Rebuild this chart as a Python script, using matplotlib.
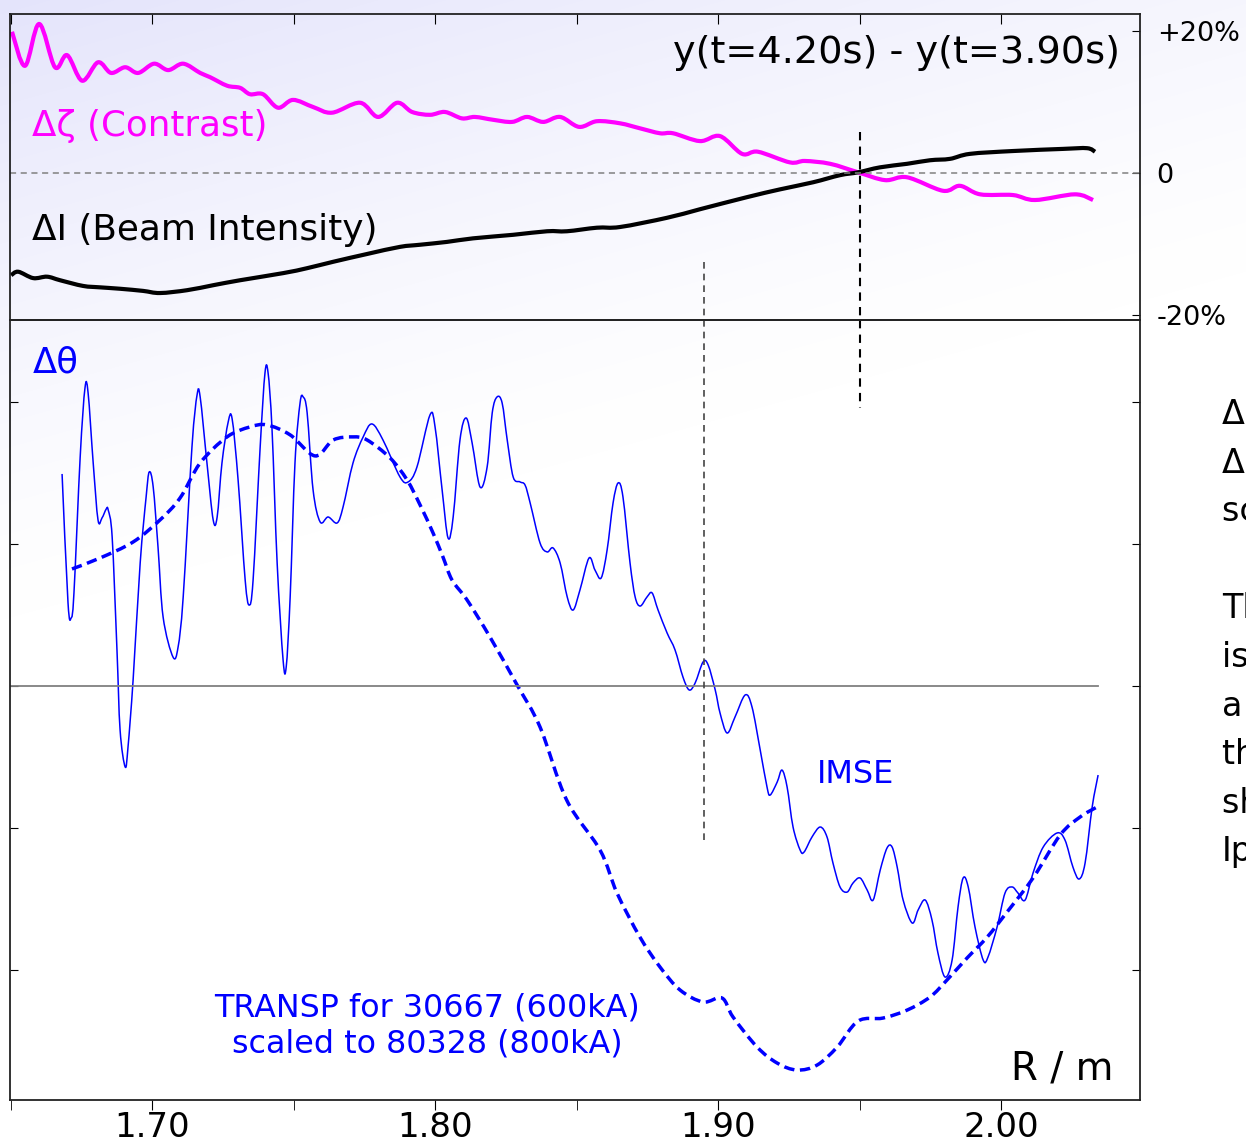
import numpy as np
import matplotlib
matplotlib.use("Agg")
import matplotlib.pyplot as plt
from matplotlib.path import Path
from matplotlib.patches import PathPatch
from matplotlib.ticker import MultipleLocator

# ---- data ----
# top panel: relative change in % vs major radius R (m)
zeta_r = [1.6505, 1.6551, 1.6601, 1.6657, 1.6700, 1.6753, 1.6809, 1.6855, 1.6905,
          1.6951, 1.7007, 1.7057, 1.7110, 1.7170, 1.7205, 1.7265, 1.7311, 1.7346,
          1.7392, 1.7445, 1.7498, 1.7569, 1.7636, 1.7735, 1.7799, 1.7866, 1.7919,
          1.7982, 1.8035, 1.8095, 1.8141, 1.8205, 1.8272, 1.8325, 1.8382, 1.8442,
          1.8509, 1.8572, 1.8654, 1.8724, 1.8795, 1.8841, 1.8936, 1.9007, 1.9085,
          1.9141, 1.9254, 1.9307, 1.9396, 1.9495, 1.9590, 1.9668, 1.9795, 1.9855,
          1.9926, 2.0042, 2.0120, 2.0261, 2.0325]
zeta_pct = [19.9, 15.1, 21.0, 14.9, 16.6, 13.0, 15.6, 14.1, 14.9,
            14.1, 15.4, 14.5, 15.4, 14.1, 13.5, 12.3, 12.0, 11.1,
            11.1, 9.2, 10.3, 9.3, 8.5, 9.9, 7.9, 9.9, 8.6,
            8.2, 8.6, 7.7, 7.9, 7.5, 7.2, 7.9, 7.2, 7.9,
            6.5, 7.3, 7.0, 6.3, 5.6, 5.6, 4.5, 5.2, 2.7,
            3.0, 1.5, 1.7, 1.3, 0.1, -1.0, -0.6, -2.5, -1.8,
            -3.0, -3.1, -3.8, -3.0, -3.8]

beam_r = [1.6502, 1.6527, 1.6580, 1.6629, 1.6675, 1.6756, 1.6816, 1.6887, 1.6968,
          1.7028, 1.7124, 1.7216, 1.7311, 1.7463, 1.7548, 1.7640, 1.7760, 1.7876,
          1.7947, 1.8042, 1.8134, 1.8276, 1.8396, 1.8466, 1.8572, 1.8654, 1.8820,
          1.8936, 1.9102, 1.9219, 1.9336, 1.9431, 1.9495, 1.9572, 1.9668, 1.9749,
          1.9820, 1.9890, 2.0042, 2.0219, 2.0304, 2.0332]
beam_pct = [-14.4, -13.9, -14.8, -14.6, -15.1, -15.9, -16.1, -16.3, -16.6,
            -16.9, -16.5, -15.8, -15.1, -14.1, -13.4, -12.5, -11.4, -10.4,
            -10.1, -9.7, -9.2, -8.7, -8.2, -8.2, -7.7, -7.6, -6.3,
            -5.1, -3.4, -2.3, -1.3, -0.3, 0.1, 0.8, 1.3, 1.8,
            2.0, 2.7, 3.1, 3.4, 3.5, 3.0]

# bottom panel: delta theta (arbitrary units, one unit per tick)
imse_r = [1.6682, 1.6703, 1.6714, 1.6724, 1.6746, 1.6763, 1.6774, 1.6792, 1.6809, 1.6823,
          1.6838, 1.6845, 1.6859, 1.6876, 1.6887, 1.6905, 1.6915, 1.6933, 1.6958, 1.6979,
          1.6990, 1.7004, 1.7021, 1.7039, 1.7074, 1.7092, 1.7110, 1.7141, 1.7159, 1.7170,
          1.7194, 1.7216, 1.7230, 1.7247, 1.7269, 1.7283, 1.7304, 1.7329, 1.7343, 1.7357,
          1.7382, 1.7399, 1.7410, 1.7424, 1.7442, 1.7463, 1.7474, 1.7488, 1.7505, 1.7523,
          1.7534, 1.7548, 1.7569, 1.7594, 1.7622, 1.7654, 1.7675, 1.7710, 1.7746, 1.7777,
          1.7816, 1.7876, 1.7905, 1.7936, 1.7982, 1.8000, 1.8025, 1.8046, 1.8064, 1.8088,
          1.8110, 1.8131, 1.8159, 1.8184, 1.8202, 1.8219, 1.8237, 1.8255, 1.8276, 1.8300,
          1.8318, 1.8336, 1.8371, 1.8396, 1.8417, 1.8442, 1.8467, 1.8488, 1.8512, 1.8544,
          1.8565, 1.8587, 1.8608, 1.8629, 1.8647, 1.8664, 1.8689, 1.8707, 1.8725, 1.8749,
          1.8767, 1.8788, 1.8820, 1.8848, 1.8876, 1.8898, 1.8919, 1.8947, 1.8965, 1.8990,
          1.9007, 1.9032, 1.9060, 1.9096, 1.9120, 1.9149, 1.9173, 1.9184, 1.9209, 1.9226,
          1.9244, 1.9265, 1.9290, 1.9304, 1.9332, 1.9361, 1.9385, 1.9406, 1.9431, 1.9456,
          1.9477, 1.9502, 1.9527, 1.9548, 1.9573, 1.9597, 1.9615, 1.9633, 1.9654, 1.9686,
          1.9707, 1.9732, 1.9756, 1.9777, 1.9802, 1.9827, 1.9848, 1.9866, 1.9884, 1.9908,
          1.9937, 1.9954, 1.9986, 2.0014, 2.0039, 2.0060, 2.0085, 2.0113, 2.0149, 2.0198,
          2.0226, 2.0254, 2.0276, 2.0297, 2.0322, 2.0343]
imse_dtheta = [1.493, 0.585, 0.479, 0.655, 1.613, 2.099, 2.063, 1.570, 1.169, 1.183,
               1.246, 1.239, 1.049, 0.254, -0.310, -0.570, -0.430, 0.042, 0.866, 1.331,
               1.507, 1.401, 0.979, 0.486, 0.204, 0.275, 0.627, 1.683, 2.049, 2.035,
               1.570, 1.169, 1.190, 1.570, 1.859, 1.880, 1.451, 0.746, 0.570, 0.746,
               1.683, 2.204, 2.204, 1.803, 0.866, 0.183, 0.134, 0.627, 1.570, 1.993,
               2.035, 1.923, 1.380, 1.155, 1.190, 1.148, 1.261, 1.570, 1.754, 1.845,
               1.732, 1.472, 1.437, 1.542, 1.908, 1.824, 1.380, 1.042, 1.190, 1.732,
               1.887, 1.711, 1.401, 1.542, 1.923, 2.035, 1.993, 1.732, 1.472, 1.437,
               1.415, 1.289, 1.007, 0.944, 0.972, 0.866, 0.627, 0.535, 0.676, 0.901,
               0.817, 0.761, 0.958, 1.289, 1.430, 1.331, 0.866, 0.627, 0.563, 0.627,
               0.655, 0.535, 0.373, 0.254, 0.063, -0.028, 0.021, 0.169, 0.148, -0.028,
               -0.190, -0.331, -0.218, -0.063, -0.148, -0.451, -0.711, -0.768, -0.676, -0.592,
               -0.711, -0.993, -1.155, -1.169, -1.063, -0.993, -1.063, -1.246, -1.415, -1.451,
               -1.387, -1.352, -1.437, -1.507, -1.296, -1.141, -1.134, -1.275, -1.507, -1.669,
               -1.577, -1.507, -1.648, -1.880, -2.049, -1.930, -1.556, -1.352, -1.415, -1.697,
               -1.930, -1.908, -1.697, -1.458, -1.415, -1.458, -1.507, -1.317, -1.134, -1.035,
               -1.085, -1.275, -1.359, -1.246, -0.852, -0.627]

transp_r = [1.6717, 1.6816, 1.6933, 1.7028, 1.7099, 1.7170, 1.7265, 1.7346, 1.7406,
            1.7488, 1.7576, 1.7640, 1.7710, 1.7760, 1.7841, 1.7901, 1.7947, 1.7993,
            1.8028, 1.8060, 1.8113, 1.8194, 1.8290, 1.8371, 1.8465, 1.8583, 1.8643,
            1.8724, 1.8795, 1.8866, 1.8947, 1.9014, 1.9053, 1.9138, 1.9209, 1.9279,
            1.9350, 1.9421, 1.9495, 1.9583, 1.9668, 1.9749, 1.9809, 1.9880, 1.9951,
            2.0021, 2.0113, 2.0209, 2.0279, 2.0339]
transp_dtheta = [0.824, 0.901, 1.014, 1.169, 1.324, 1.570, 1.754, 1.824, 1.838,
                 1.768, 1.620, 1.732, 1.754, 1.732, 1.606, 1.451, 1.275, 1.077,
                 0.908, 0.746, 0.606, 0.345, 0.007, -0.289, -0.803, -1.155, -1.458,
                 -1.768, -1.979, -2.141, -2.225, -2.197, -2.331, -2.542, -2.655, -2.704,
                 -2.669, -2.542, -2.359, -2.338, -2.282, -2.190, -2.070, -1.915, -1.768,
                 -1.592, -1.352, -1.049, -0.923, -0.852]

# marker radii for the vertical dashed lines
r_mark_a = 1.895
r_mark_b = 1.95

x_major = [1.70, 1.80, 1.90, 2.00]
x_labels = ["1.70", "1.80", "1.90", "2.00"]
pct_ticks = [20, 0, -20]
pct_labels = ["+20%", "0", "-20%"]

side_note = ("Δζ, ΔI small,\nΔθ large:\nscaled IMSE\n\nThe change\nis not\na beam effect,\n"
             "the q-profile\nshifts with\nIp")


def smooth_line(ax, xs, ys, **kw):
    # draw the measured points joined by a Catmull-Rom (Bezier) curve
    p = np.column_stack([xs, ys])
    verts = [p[0]]
    codes = [Path.MOVETO]
    n = len(p)
    for i in range(n - 1):
        p0 = p[i - 1] if i > 0 else p[i]
        p1, p2 = p[i], p[i + 1]
        p3 = p[i + 2] if i + 2 < n else p[i + 1]
        verts += [p1 + (p2 - p0) / 6, p2 - (p3 - p1) / 6, p2]
        codes += [Path.CURVE4] * 3
    patch = PathPatch(Path(verts, codes), fill=False, joinstyle="round",
                      capstyle="butt", **kw)
    ax.add_patch(patch)


def main():
    W, H = 1246, 1141
    fig = plt.figure(figsize=(W / 100, H / 100), dpi=100)

    # soft lavender background gradient from the upper left corner
    ax_bg = fig.add_axes([0, 0, 1, 1], zorder=-10)
    yy, xx = np.mgrid[0:H, 0:W]
    w = np.clip(1 - (yy + 0.28 * xx) / 620.0, 0, 1) ** 1.3
    lav = np.array([0.895, 0.895, 0.985])
    img = 1 - w[..., None] * (1 - lav)
    ax_bg.imshow(img, extent=[0, 1, 0, 1], aspect="auto")
    ax_bg.axis("off")

    left, right = 10 / W, 1140 / W
    ax_top = fig.add_axes([left, 1 - 320 / H, right - left, 306 / H])
    ax_bot = fig.add_axes([left, 1 - 1100 / H, right - left, 780 / H])
    for ax in (ax_top, ax_bot):
        ax.set_facecolor("none")
        ax.set_xlim(1.6498, 2.0491)
        for s in ax.spines.values():
            s.set_linewidth(1.3)
            s.set_color("#222222")

    # ---- top panel ----
    ax_top.set_ylim(-20.7, 22.4)
    ax_top.axhline(0, color="#808080", lw=1.1, ls=(0, (4, 3)))
    smooth_line(ax_top, zeta_r, zeta_pct, edgecolor="#ff00ff", lw=3)
    smooth_line(ax_top, beam_r, beam_pct, edgecolor="black", lw=3)
    ax_top.plot([r_mark_a, r_mark_a], [-12.5, -20.7], color="#444444", lw=1.2,
                ls=(0, (4, 3)))
    ax_top.plot([r_mark_b, r_mark_b], [5.8, -20.7], color="black", lw=1.5,
                ls=(0, (4, 3)))
    ax_top.xaxis.set_major_locator(MultipleLocator(0.05))
    ax_top.tick_params(axis="x", top=True, bottom=False, direction="in",
                       length=7, labelbottom=False)
    ax_top.yaxis.tick_right()
    ax_top.set_yticks(pct_ticks)
    ax_top.set_yticklabels(pct_labels)
    ax_top.tick_params(axis="y", direction="in", length=6, labelsize=19.5, pad=12,
                       left=False)

    ax_top.text(0.982, 0.873, "y(t=4.20s) - y(t=3.90s)", transform=ax_top.transAxes,
                ha="right", va="center", fontsize=27.5)
    ax_top.text(0.0195, 0.634, "Δζ (Contrast)", transform=ax_top.transAxes,
                ha="left", va="center", fontsize=25.7, color="#ff00ff")
    ax_top.text(0.0195, 0.294, "ΔI (Beam Intensity)", transform=ax_top.transAxes,
                ha="left", va="center", fontsize=25.8, color="black")

    # ---- bottom panel ----
    ax_bot.set_ylim(-2.915, 2.577)
    ax_bot.plot([1.6498, imse_r[-1]], [0, 0], color="#808080", lw=1.3)
    smooth_line(ax_bot, imse_r, imse_dtheta, edgecolor="#0000ff", lw=1.1)
    smooth_line(ax_bot, transp_r, transp_dtheta, edgecolor="#0000ff", lw=2.5,
                linestyle=(0, (3, 1.6)))
    ax_bot.plot([r_mark_a, r_mark_a], [2.577, -1.085], color="#444444", lw=1.2,
                ls=(0, (4, 3)))
    ax_bot.plot([r_mark_b, r_mark_b], [2.577, 1.958], color="black", lw=1.5,
                ls=(0, (4, 3)))
    ax_bot.set_yticks([-2, -1, 0, 1, 2])
    ax_bot.tick_params(axis="y", left=True, right=True, direction="in", length=6,
                       labelleft=False)
    ax_bot.set_xticks(x_major)
    ax_bot.set_xticklabels(x_labels)
    ax_bot.xaxis.set_minor_locator(MultipleLocator(0.05))
    ax_bot.tick_params(axis="x", which="both", direction="out", length=7,
                       labelsize=24.5, pad=1)

    ax_bot.text(0.0204, 0.945, "Δθ", transform=ax_bot.transAxes, ha="left",
                va="center", fontsize=25.5, color="#0000ff")
    ax_bot.text(0.714, 0.417, "IMSE", transform=ax_bot.transAxes, ha="left",
                va="center", fontsize=23, color="#0000ff")
    ax_bot.text(0.369, 0.095, "TRANSP for 30667 (600kA)\nscaled to 80328 (800kA)",
                transform=ax_bot.transAxes, ha="center", va="center", fontsize=22.9,
                color="#0000ff", linespacing=1.2)
    ax_bot.text(0.976, 0.041, "R / m", transform=ax_bot.transAxes, ha="right",
                va="center", fontsize=27.9, color="black")

    # note on the right, cut by the figure edge
    fig.text(1222 / W, 1 - 398 / H, side_note, ha="left", va="top", fontsize=24,
             linespacing=1.6)

    fig.savefig("out.png", dpi=100)


if __name__ == "__main__":
    main()
